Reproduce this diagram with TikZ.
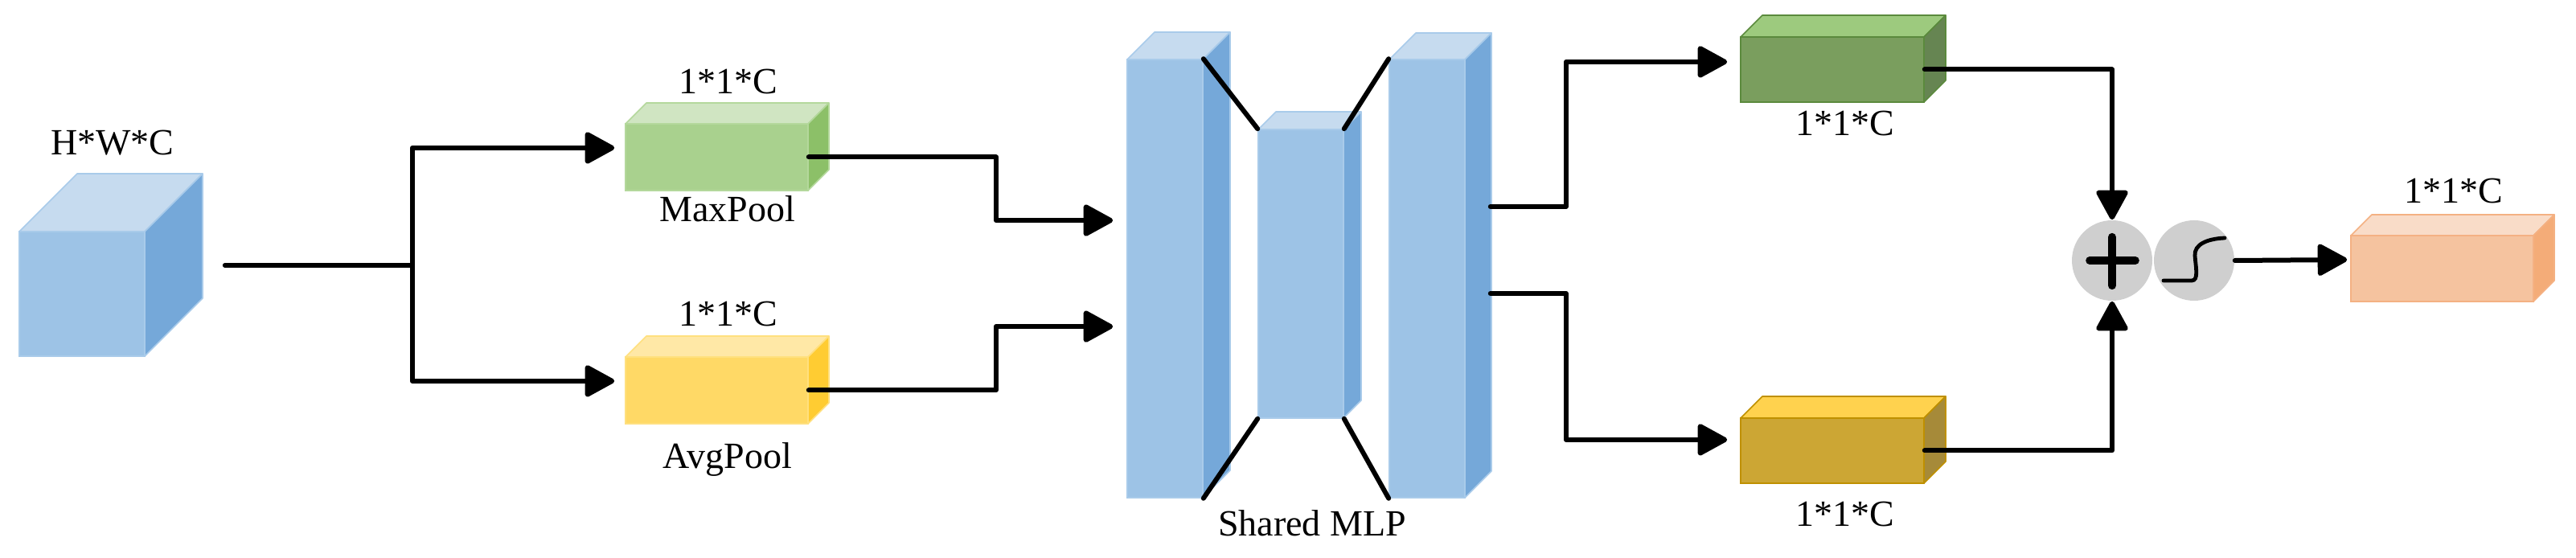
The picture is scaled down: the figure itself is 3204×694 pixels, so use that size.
\documentclass[tikz,border=0pt]{standalone}
\usepackage{fontspec}
\setmainfont{Liberation Serif}
\usetikzlibrary{arrows.meta,fit}
\definecolor{blueF}{HTML}{9DC3E6}\definecolor{blueT}{HTML}{C6DBEF}\definecolor{blueS}{HTML}{75A8D9}\definecolor{blueE}{HTML}{A9CBEA}
\definecolor{greenF}{HTML}{A9D18E}\definecolor{greenT}{HTML}{D0E5C2}\definecolor{greenS}{HTML}{8CC068}\definecolor{greenE}{HTML}{B4D89C}
\definecolor{yelF}{HTML}{FFD966}\definecolor{yelT}{HTML}{FFE8A6}\definecolor{yelS}{HTML}{FFCC32}\definecolor{yelE}{HTML}{FFE07F}
\definecolor{dgF}{HTML}{7A9E5E}\definecolor{dgT}{HTML}{9DCA7E}\definecolor{dgS}{HTML}{668552}\definecolor{dgE}{HTML}{5B8A3D}
\definecolor{dyF}{HTML}{CCA634}\definecolor{dyT}{HTML}{FFD24E}\definecolor{dyS}{HTML}{A68A39}\definecolor{dyE}{HTML}{BF9000}
\definecolor{peF}{HTML}{F5C39F}\definecolor{peT}{HTML}{F9DCC8}\definecolor{peS}{HTML}{F4AC78}\definecolor{peE}{HTML}{F4B183}
\definecolor{circF}{HTML}{CFCFCF}
% #1 name, #2 x1, #3 y1 (top), #4 x2, #5 y2 (bottom), #6 depth, #7 colour prefix
\newcommand\cuboidbox[7]{%
  \fill[#7F, draw=#7E, line width=0.4pt] (#2,#3) rectangle (#4,#5);
  \fill[#7T, draw=#7E, line width=0.4pt, line join=round] (#2,#3) -- ++(#6,-#6) -- ++(#4-#2,0) -- (#4,#3) -- cycle;
  \fill[#7S, draw=#7E, line width=0.4pt, line join=round] (#4,#3) -- ++(#6,-#6) -- ++(0,#5-#3) -- (#4,#5) -- cycle;
  \node[fit={(#2,#3)(#4,#5)}, inner sep=0pt] (#1) {};
}
\tikzset{
  ln/.style={line width=1.5pt, line cap=round, line join=round},
  arr/.style={ln, -{Triangle[length=10pt,width=10.5pt,round]}},
  lbl/.style={font=\fontsize{11.5}{13}\selectfont, anchor=base, inner sep=0pt},
  circ/.style={circle, fill=circF, minimum size=25pt, inner sep=0pt},
}
\begin{document}
\begin{tikzpicture}[x=0.25pt,y=-0.25pt]
\useasboundingbox (0,0) rectangle (3204,694);
% boxes
\cuboidbox{cube}{24}{288}{180}{443}{72}{blue}
\cuboidbox{g1}{778}{154}{1005}{237}{26}{green}
\cuboidbox{y1}{778}{444}{1005}{527}{26}{yel}
\cuboidbox{bar1}{1402}{74}{1496}{619}{34}{blue}
\cuboidbox{bar2}{1565}{161}{1671}{520}{22}{blue}
\cuboidbox{bar3}{1728}{74}{1822}{619}{33}{blue}
\cuboidbox{dg}{2165}{46}{2393}{127}{27}{dg}
\cuboidbox{dy}{2165}{520}{2393}{601}{27}{dy}
\cuboidbox{pe}{2924}{293}{3151}{375}{26}{pe}
% operators
\node[circ] (plus) at (2627,324) {};
\node[circ] (sig) at (2729,324) {};
\begin{scope}[shift={(plus.center)}]
  \draw[line width=2.4pt, line cap=round] (-28,0) -- (29,0);
  \draw[line width=2.6pt, line cap=round] (0,-29) -- (0,31);
\end{scope}
\begin{scope}[shift={(sig.center)}]
  \draw[line width=1.2pt, line cap=round] (-38,25) -- (-3,25) .. controls (6,25) and (2,8) .. (1,-6) .. controls (0,-20) and (16,-27) .. (38,-28);
\end{scope}
% labels
\node[lbl] (t0) at (140,193) {H*W*C};
\node[lbl] (t1) at (906,117) {1*1*C};
\node[lbl] (t2) at (905,276) {MaxPool};
\node[lbl] (t3) at (906,406) {1*1*C};
\node[lbl] (t4) at (905,583) {AvgPool};
\node[lbl] (t5) at (1632,667) {Shared MLP};
\node[lbl] (t6) at (2295,169) {1*1*C};
\node[lbl] (t7) at (2295,655) {1*1*C};
\node[lbl] (t8) at (3052,253) {1*1*C};
% connectors
\draw[ln] ([shift={(24.75pt,8.9pt)}]cube.east) -- ++(233,0) coordinate (split);
\draw[arr] (split) |- ([shift={(-3.25pt,2.9pt)}]g1.west);
\draw[arr] (split) |- ([shift={(-3.25pt,2.9pt)}]y1.west);
\draw[arr] (g1.east) -- ++(233,0) |- ([shift={(-4.25pt,18.1pt)}]bar1.west);
\draw[arr] (y1.east) -- ++(233,0) |- ([shift={(-4.25pt,-14.9pt)}]bar1.west);
\draw[ln] (bar1.north east) -- (bar2.north west);
\draw[ln] (bar2.north east) -- (bar3.north west);
\draw[ln] (bar1.south east) -- (bar2.south west);
\draw[ln] (bar2.south east) -- (bar3.south west);
\draw[arr] ([shift={(7.75pt,22.4pt)}]bar3.east) -- ++(94,0) |- ([shift={(-4pt,2.4pt)}]dg.west);
\draw[arr] ([shift={(7.75pt,-4.6pt)}]bar3.east) -- ++(94,0) |- ([shift={(-4pt,3.4pt)}]dy.west);
\draw[arr] (dg.east) -| (plus.north);
\draw[arr] (dy.east) -| (plus.south);
\draw[arr] (sig.east) -- ([shift={(-1pt,2.75pt)}]pe.west);
\end{tikzpicture}
\end{document}
